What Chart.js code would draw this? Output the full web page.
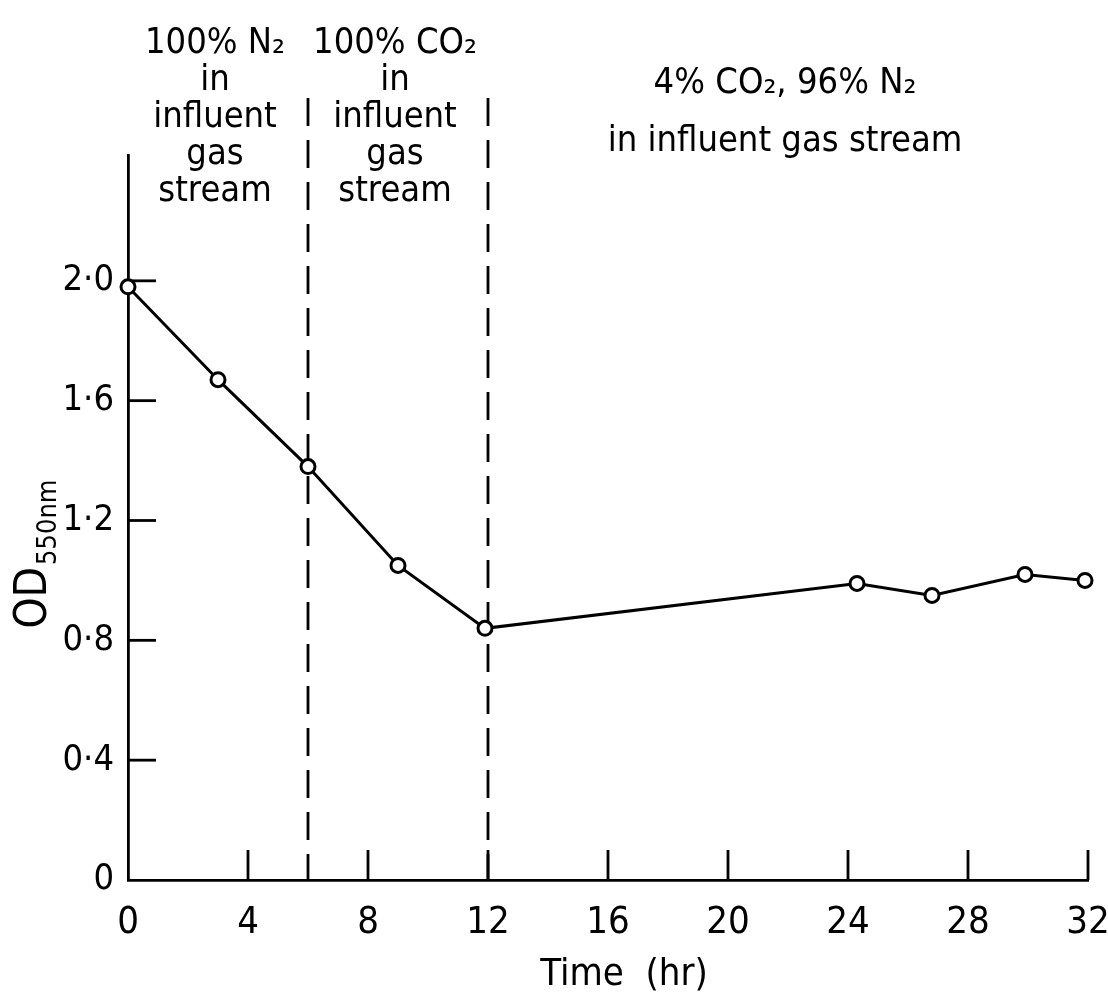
<!DOCTYPE html>
<html>
<head>
<meta charset="utf-8">
<script src="https://cdn.jsdelivr.net/npm/chart.js@4.4.1/dist/chart.umd.min.js"></script>
<style>
  html, body { margin: 0; padding: 0; background: #fff; }
</style>
</head>
<body>
<canvas id="odChart" width="1108" height="1006"></canvas>
<script>
// data
const timeHr = [0, 3, 6, 9, 11.9, 24.3, 26.8, 29.9, 31.9];
const odValues = [1.98, 1.67, 1.38, 1.05, 0.84, 0.99, 0.95, 1.02, 1.0];

const xTicks = [0, 4, 8, 12, 16, 20, 24, 28, 32];
const xTickLabels = ['0', '4', '8', '12', '16', '20', '24', '28', '32'];
const yTicks = [0, 0.4, 0.8, 1.2, 1.6, 2.0];
const yTickLabels = ['0', '0·4', '0·8', '1·2', '1·6', '2·0'];

const phaseBoundaries = [6, 12];
const phaseLabels = [
    ['100% N₂', 'in', 'influent', 'gas', 'stream'],
    ['100% CO₂', 'in', 'influent', 'gas', 'stream'],
    ['4% CO₂, 96% N₂', 'in influent gas stream']
];
const phaseCenters = [2.9, 8.9, 21.9];

const FONT = '"DejaVu Sans Condensed", "Liberation Sans Narrow", sans-serif';
const INK = '#000';

/* ============================= */
/* Drawing helpers               */
/* ============================= */

const figurePlugin = {
    id: 'figure',
    beforeDatasetsDraw(chart) {
        const { ctx } = chart;
        const xs = chart.scales.x, ys = chart.scales.y;
        const y0 = ys.getPixelForValue(0);
        ctx.save();
        ctx.strokeStyle = INK;
        ctx.lineWidth = 2.8;

        // inward tick marks
        yTicks.forEach(v => {
            if (v === 0) return;
            const py = ys.getPixelForValue(v);
            const px = xs.getPixelForValue(0);
            ctx.beginPath();
            ctx.moveTo(px, py);
            ctx.lineTo(px + 28, py);
            ctx.stroke();
        });
        xTicks.forEach(v => {
            if (v === 0) return;
            const px = xs.getPixelForValue(v);
            ctx.beginPath();
            ctx.moveTo(px, y0);
            ctx.lineTo(px, y0 - 30);
            ctx.stroke();
        });

        // dashed phase boundaries
        ctx.setLineDash([28, 14]);
        phaseBoundaries.forEach(v => {
            const px = xs.getPixelForValue(v);
            ctx.beginPath();
            ctx.moveTo(px, ys.getPixelForValue(2.61));
            ctx.lineTo(px, y0);
            ctx.stroke();
        });
        ctx.restore();
    },
    afterDraw(chart) {
        const { ctx } = chart;
        const xs = chart.scales.x;
        ctx.save();
        ctx.fillStyle = INK;
        ctx.textAlign = 'center';
        ctx.textBaseline = 'middle';
        ctx.font = '36px ' + FONT;

        const rows = [[44, 37], [44, 37], [84, 58]];
        phaseLabels.forEach((lines, i) => {
            const cx = xs.getPixelForValue(phaseCenters[i]);
            lines.forEach((t, j) => {
                ctx.fillText(t, cx, rows[i][0] + j * rows[i][1]);
            });
        });

        // x axis title
        ctx.font = '38px ' + FONT;
        ctx.fillText('Time  (hr)', 624, 975);

        // y axis title with subscript
        ctx.translate(46, 555);
        ctx.rotate(-Math.PI / 2);
        ctx.textAlign = 'left';
        ctx.textBaseline = 'alphabetic';
        ctx.font = '44px ' + FONT;
        const w = ctx.measureText('OD').width;
        const sub = '550nm';
        ctx.font = '27px ' + FONT;
        const ws = ctx.measureText(sub).width;
        const start = -(w + ws) / 2;
        ctx.font = '44px ' + FONT;
        ctx.fillText('OD', start, 0);
        ctx.font = '27px ' + FONT;
        ctx.fillText(sub, start + w + 2, 10);
        ctx.restore();
    }
};

const ctx = document.getElementById('odChart').getContext('2d');

new Chart(ctx, {
    type: 'line',
    data: {
        datasets: [{
            label: 'OD550nm',
            data: timeHr.map((t, i) => ({ x: t, y: odValues[i] })),
            borderColor: INK,
            borderWidth: 3,
            backgroundColor: '#fff',
            pointBackgroundColor: '#fff',
            pointBorderColor: INK,
            pointBorderWidth: 3,
            pointRadius: 7,
            tension: 0,
            clip: false
        }]
    },
    options: {
        responsive: false,
        devicePixelRatio: 1,
        animation: false,
        layout: { padding: { top: 155, right: 0, left: 0, bottom: 0 } },
        plugins: {
            legend: { display: false },
            tooltip: { enabled: false }
        },
        scales: {
            x: {
                type: 'linear',
                min: 0,
                max: 32,
                afterFit: s => {
                    s.height = 126;
                    s.paddingLeft = 0;
                    s.paddingRight = 20;
                },
                afterBuildTicks: s => { s.ticks = xTicks.map(v => ({ value: v })); },
                grid: { display: false },
                border: { display: true, color: INK, width: 2.8 },
                ticks: {
                    color: INK,
                    padding: 12,
                    maxRotation: 0,
                    font: { family: FONT, size: 38 },
                    callback: (v) => xTickLabels[xTicks.indexOf(v)]
                }
            },
            y: {
                min: 0,
                max: 2.42,
                afterFit: s => { s.width = 128; },
                afterBuildTicks: s => { s.ticks = yTicks.map(v => ({ value: v })); },
                grid: { display: false },
                border: { display: true, color: INK, width: 2.8 },
                ticks: {
                    color: INK,
                    padding: 6,
                    font: { family: FONT, size: 36 },
                    callback: (v) => yTickLabels[yTicks.indexOf(v)]
                }
            }
        }
    },
    plugins: [figurePlugin]
});
</script>
</body>
</html>
